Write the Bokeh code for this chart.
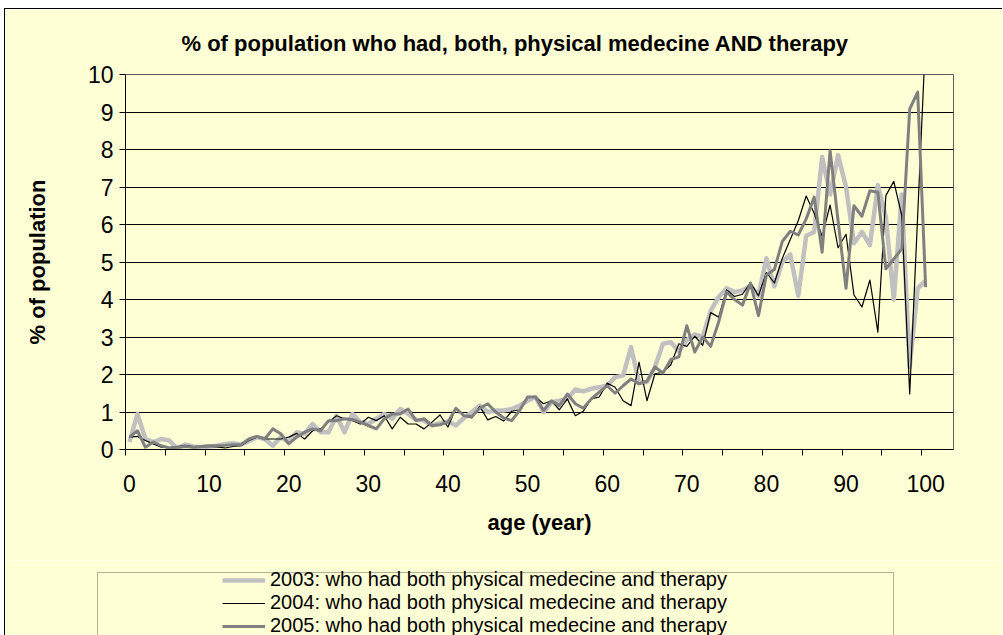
import numpy as np
from bokeh.plotting import figure
from bokeh.layouts import column, row
from bokeh.models import Range1d, FixedTicker, Legend, LegendItem, BoxAnnotation
from bokeh.embed import file_html
from bokeh.resources import INLINE

# ---------------- data ----------------
ages = list(range(0, 101))

pct_2003 = [0.2, 0.95, 0.28, 0.2, 0.28, 0.24, 0.03, 0.13, 0.08, 0.06,
            0.08, 0.1, 0.15, 0.17, 0.13, 0.22, 0.33, 0.28, 0.1, 0.33,
            0.2, 0.46, 0.42, 0.68, 0.46, 0.46, 0.9, 0.46, 0.95, 0.73,
            0.68, 0.82, 0.95, 0.82, 1.08, 0.95, 0.79, 0.77, 0.64, 0.7,
            0.75, 0.64, 0.84, 1.0, 1.17, 1.0, 1.04, 1.04, 1.08, 1.17,
            1.3, 1.4, 1.0, 1.26, 1.3, 1.35, 1.6, 1.55, 1.62, 1.66,
            1.7, 1.93, 1.97, 2.73, 1.78, 1.8, 2.2, 2.82, 2.86, 2.62,
            2.92, 3.07, 3.0, 3.7, 4.06, 4.3, 4.2, 4.24, 4.37, 4.1,
            5.1, 4.35, 5.0, 5.2, 4.1, 5.7, 5.8, 7.8, 6.8, 7.85,
            7.0, 5.5, 5.8, 5.45, 7.05, 6.2, 4.0, 6.8, 2.2, 4.3,
            4.5]

pct_2004 = [0.33, 0.35, 0.24, 0.15, 0.06, 0.05, 0.08, 0.11, 0.08, 0.07,
            0.08, 0.07, 0.04, 0.08, 0.1, 0.24, 0.33, 0.28, 0.28, 0.28,
            0.33, 0.43, 0.28, 0.5, 0.55, 0.73, 0.9, 0.82, 0.77, 0.68,
            0.86, 0.77, 0.9, 0.55, 0.86, 0.68, 0.68, 0.55, 0.73, 0.92,
            0.6, 1.1, 0.9, 0.84, 1.15, 0.79, 0.88, 0.76, 1.02, 1.06,
            1.4, 1.4, 1.22, 1.3, 1.06, 1.35, 0.9, 1.02, 1.35, 1.4,
            1.77, 1.66, 1.3, 1.17, 2.33, 1.3, 2.02, 2.06, 2.26, 2.82,
            2.75, 3.02, 2.78, 3.65, 3.53, 4.26, 4.08, 4.14, 4.45, 4.1,
            4.72, 4.44, 5.1, 5.6, 6.1, 6.76, 6.3, 5.68, 6.52, 5.38,
            5.74, 4.12, 3.8, 4.52, 3.13, 6.77, 7.15, 6.24, 1.48, 6.24,
            11.0]

pct_2005 = [0.33, 0.5, 0.06, 0.2, 0.1, 0.04, 0.06, 0.08, 0.06, 0.08,
            0.1, 0.1, 0.11, 0.13, 0.13, 0.28, 0.35, 0.28, 0.55, 0.42,
            0.15, 0.33, 0.46, 0.55, 0.5, 0.77, 0.77, 0.82, 0.8, 0.73,
            0.64, 0.55, 0.82, 0.95, 0.95, 1.08, 0.77, 0.82, 0.64, 0.66,
            0.73, 1.1, 0.9, 0.88, 1.1, 1.22, 1.0, 0.84, 0.77, 1.04,
            1.4, 1.4, 1.04, 1.3, 1.17, 1.48, 1.22, 1.1, 1.35, 1.53,
            1.7, 1.5, 1.7, 1.88, 1.75, 1.82, 2.2, 2.04, 2.4, 2.47,
            3.3, 2.6, 3.0, 2.75, 3.4, 4.2, 4.0, 3.85, 4.44, 3.57,
            4.65, 4.8, 5.55, 5.82, 5.72, 6.15, 6.73, 5.26, 7.97, 6.1,
            4.3, 6.5, 6.22, 6.9, 6.86, 4.82, 5.08, 5.35, 9.08, 9.53,
            4.33]

x_tick_labels = [0, 10, 20, 30, 40, 50, 60, 70, 80, 90, 100]
x_tick_marks = [-0.5 + 5 * k for k in range(21)]
y_ticks = list(range(0, 11))

series_names = [
    "2003: who had both physical medecine and therapy",
    "2004: who had both physical medecine and therapy",
    "2005: who had both physical medecine and therapy",
]
series_colors = ["#C0C0C0", "#000000", "#808080"]
series_widths = [4.5, 1.2, 3]
title_text = "% of population who had, both, physical medecine AND therapy"

# ---------------- style ----------------
FONT = "Liberation Sans"
BG = "#FFFFD5"
W = 997

# ---------- main chart ----------
p = figure(width=W, height=551, output_backend="svg", toolbar_location=None,
           x_range=Range1d(-0.5, 103.5), y_range=Range1d(0, 10),
           min_border_left=120, min_border_right=49,
           min_border_top=65, min_border_bottom=111)

p.background_fill_color = BG
p.border_fill_color = BG
p.outline_line_color = "#606060"
p.outline_line_width = 1

p.title.text = title_text
p.title.align = "left"
p.title.offset = 56
p.title.text_font = FONT
p.title.text_font_size = "22px"
p.title.text_font_style = "bold"
p.title.text_color = "black"
p.title.standoff = 38

for vals, col, lw in zip([pct_2003, pct_2004, pct_2005], series_colors, series_widths):
    p.line(ages, vals, line_color=col, line_width=lw, line_join="round")

# x axis
xa = p.xaxis[0]
xa.ticker = FixedTicker(ticks=x_tick_labels, minor_ticks=x_tick_marks)
xa.major_tick_line_color = None
xa.major_tick_out = 0
xa.major_tick_in = 0
xa.minor_tick_line_color = "black"
xa.minor_tick_out = 6
xa.minor_tick_in = 0
xa.axis_line_color = "black"
xa.major_label_standoff = 19
xa.major_label_text_font = FONT
xa.major_label_text_font_size = "23px"
xa.major_label_text_color = "black"
xa.axis_label = "age (year)"
xa.axis_label_text_font = FONT
xa.axis_label_text_font_size = "22px"
xa.axis_label_text_font_style = "bold"
xa.axis_label_text_color = "black"
xa.axis_label_standoff = 15
p.xgrid.visible = False

# y axis
ya = p.yaxis[0]
ya.ticker = FixedTicker(ticks=y_ticks, minor_ticks=[])
ya.major_tick_out = 6
ya.major_tick_in = 0
ya.major_tick_line_color = "black"
ya.minor_tick_line_color = None
ya.axis_line_color = "black"
ya.major_label_standoff = 6
ya.major_label_text_font = FONT
ya.major_label_text_font_size = "23px"
ya.major_label_text_color = "black"
ya.axis_label = "% of population"
ya.axis_label_text_font = FONT
ya.axis_label_text_font_size = "22px"
ya.axis_label_text_font_style = "bold"
ya.axis_label_text_color = "black"
ya.axis_label_standoff = 35
p.ygrid.grid_line_color = "black"
p.ygrid.grid_line_width = 1
p.ygrid.ticker = FixedTicker(ticks=y_ticks)

# ---------- legend strip ----------
q = figure(width=W, height=75, output_backend="svg", toolbar_location=None,
           x_range=Range1d(0, 1), y_range=Range1d(0, 1),
           x_axis_location=None, y_axis_location=None, min_border=0)
q.background_fill_color = BG
q.border_fill_color = BG
q.outline_line_color = None
q.xgrid.visible = False
q.ygrid.visible = False

legend_box = BoxAnnotation(left=92, right=888, top=63, bottom=-10,
                           left_units="screen", right_units="screen",
                           top_units="screen", bottom_units="screen",
                           fill_alpha=0, line_color="black", line_width=1)
q.add_layout(legend_box)

# legend proxies (no visible data, only carry the line style)
nan_pt = np.array([np.nan])
proxies = [q.line(nan_pt, nan_pt, line_color=col, line_width=lw)
           for col, lw in zip(series_colors, series_widths)]

legend = Legend(items=[LegendItem(label=name, renderers=[r])
                       for name, r in zip(series_names, proxies)],
                location=(217, -2), orientation="vertical",
                border_line_color=None, background_fill_alpha=0,
                padding=0, margin=0, spacing=0,
                glyph_width=43, glyph_height=18, label_height=18,
                label_standoff=5, label_text_font=FONT,
                label_text_font_size="20px", label_text_color="black")
q.add_layout(legend)

layout = column(p, row(q), spacing=0,
                styles={"margin-left": "4px", "margin-top": "8px",
                        "border-left": "1px solid black",
                        "border-top": "1px solid black"})

open("out.html", "w").write(file_html(layout, INLINE))
